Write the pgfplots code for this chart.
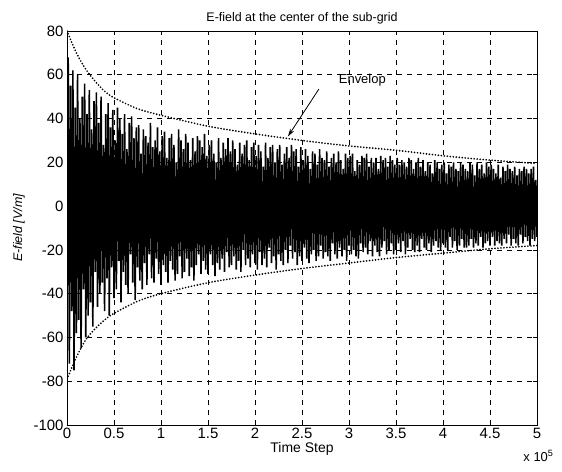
\documentclass[border=0pt]{standalone}
\usepackage{pgfplots}
\pgfplotsset{compat=1.18}
\usepackage{fontspec}
\setmainfont{Liberation Sans}
\usetikzlibrary{arrows.meta}
\begin{document}
\begin{tikzpicture}
\begin{axis}[
 scale only axis, width=470bp, height=394bp,
 xmin=0, xmax=5, ymin=-100, ymax=80,
 xtick={0,0.5,1,1.5,2,2.5,3,3.5,4,4.5,5},
 xticklabels={0,0.5,1,1.5,2,2.5,3,3.5,4,4.5,5},
 ytick={-100,-80,-60,-40,-20,0,20,40,60,80},
 grid=major,
 major grid style={black, dash pattern=on 5bp off 5bp, line width=0.7bp},
 axis line style={line width=0.9bp},
 tick align=inside, major tick length=4bp,
 tick style={black, line width=0.6bp},
 ticklabel style={font=\fontsize{15}{17}\selectfont},
 /pgf/number format/assume math mode=true,
 title={E-field at the center of the sub-grid},
 title style={font=\fontsize{12.5}{14}\selectfont, yshift=-3bp},
 xlabel={Time Step},
 xlabel style={font=\fontsize{14}{16}\selectfont, yshift=4bp},
 ylabel={\itshape E-field [V/m]},
 ylabel style={font=\fontsize{12.5}{14}\selectfont, yshift=2bp},
 clip=true,
]
\addplot[black, line width=1.6bp, line join=miter] table[row sep=\\, header=false, x expr=\coordindex*0.0125, y index=0] {
0\\ 68\\ -72\\ 55\\ -48\\ 62\\ -75\\ 45\\ -58\\ 60\\ -52\\ 40\\ -65\\ 50\\ -38\\ 56\\ -60\\ 42\\ -50\\ 53\\
-44\\ 35\\ -55\\ 48\\ -30\\ 52\\ -46\\ 38\\ -40\\ 50\\ -35\\ 28\\ -48\\ 42\\ -33\\ 47\\ -50\\ 36\\ -28\\ 44\\
-42\\ 30\\ -38\\ 45\\ -25\\ 40\\ -44\\ 33\\ -30\\ 42\\ -36\\ 26\\ -40\\ 38\\ -22\\ 41\\ -35\\ 31\\ -43\\ 36\\
-28\\ 37\\ -34\\ 24\\ -38\\ 35\\ -26\\ 32\\ -36\\ 29\\ -22\\ 38\\ -33\\ 27\\ -35\\ 30\\ -24\\ 36\\ -31\\ 25\\
-36\\ 32\\ -27\\ 34\\ -30\\ 22\\ -35\\ 31\\ -25\\ 33\\ -29\\ 28\\ -34\\ 20\\ -31\\ 35\\ -23\\ 30\\ -33\\ 26\\
-30\\ 33\\ -24\\ 29\\ -32\\ 21\\ -28\\ 31\\ -34\\ 25\\ -27\\ 32\\ -22\\ 30\\ -31\\ 27\\ -25\\ 33\\ -29\\ 23\\
-31\\ 28\\ -22\\ 30\\ -27\\ 24\\ -32\\ 20\\ -26\\ 31\\ -29\\ 22\\ -24\\ 29\\ -30\\ 26\\ -21\\ 31\\ -28\\ 25\\
-27\\ 30\\ -23\\ 26\\ -29\\ 19\\ -25\\ 29\\ -30\\ 24\\ -20\\ 28\\ -27\\ 30\\ -24\\ 21\\ -28\\ 27\\ -22\\ 29\\
-26\\ 23\\ -29\\ 28\\ -21\\ 25\\ -27\\ 18\\ -24\\ 29\\ -28\\ 22\\ -19\\ 27\\ -26\\ 28\\ -23\\ 20\\ -29\\ 26\\
-22\\ 28\\ -25\\ 19\\ -27\\ 24\\ -20\\ 27\\ -26\\ 22\\ -18\\ 28\\ -24\\ 25\\ -21\\ 26\\ -27\\ 18\\ -23\\ 27\\
-25\\ 21\\ -19\\ 26\\ -24\\ 23\\ -26\\ 17\\ -22\\ 25\\ -20\\ 24\\ -25\\ 19\\ -23\\ 26\\ -18\\ 22\\ -24\\ 21\\
-21\\ 25\\ -23\\ 18\\ -25\\ 22\\ -17\\ 24\\ -22\\ 20\\ -24\\ 25\\ -19\\ 21\\ -23\\ 17\\ -20\\ 24\\ -25\\ 22\\
-18\\ 23\\ -22\\ 24\\ -20\\ 16\\ -23\\ 21\\ -24\\ 19\\ -17\\ 23\\ -21\\ 22\\ -19\\ 24\\ -22\\ 18\\ -16\\ 22\\
-23\\ 20\\ -18\\ 22\\ -21\\ 17\\ -23\\ 23\\ -19\\ 21\\ -16\\ 22\\ -22\\ 18\\ -20\\ 23\\ -17\\ 21\\ -22\\ 19\\
-20\\ 22\\ -17\\ 19\\ -21\\ 21\\ -16\\ 20\\ -22\\ 18\\ -19\\ 22\\ -15\\ 21\\ -20\\ 17\\ -21\\ 20\\ -18\\ 22\\
-21\\ 18\\ -15\\ 21\\ -19\\ 16\\ -20\\ 20\\ -17\\ 19\\ -21\\ 15\\ -18\\ 21\\ -16\\ 20\\ -19\\ 17\\ -20\\ 19\\
-17\\ 20\\ -19\\ 15\\ -20\\ 19\\ -14\\ 18\\ -19\\ 20\\ -16\\ 17\\ -20\\ 16\\ -18\\ 20\\ -15\\ 19\\ -19\\ 17\\
-19\\ 16\\ -18\\ 20\\ -15\\ 19\\ -19\\ 14\\ -17\\ 20\\ -18\\ 17\\ -14\\ 19\\ -19\\ 15\\ -17\\ 20\\ -16\\ 18\\
-18\\ 19\\ -14\\ 17\\ -18\\ 15\\ -16\\ 19\\ -17\\ 13\\ -18\\ 18\\ -15\\ 16\\ -17\\ 19\\ -13\\ 17\\ -18\\ 16\\
-15\\ 18\\ -17\\ 14\\ -18\\ 17\\ -13\\ 16\\ -17\\ 18\\ -14\\ 17\\ -16\\ 15\\ -18\\ 17\\ -15\\ 18\\ -16\\ 12\\ -14\\
};
\addplot[black, line width=1.9bp, line cap=round, dash pattern=on 0bp off 3bp, smooth] coordinates {
(0,80) (0.1,70) (0.2,62.5) (0.3,57) (0.4,52.5) (0.5,49.5) (0.75,44.5) (1,41.5) (1.5,36.5) (2,33) (2.5,30) (3,27.5) (3.5,25.5) (4,23) (4.5,21) (5,19.5)
};
\addplot[black, line width=1.9bp, line cap=round, dash pattern=on 0bp off 3bp, smooth] coordinates {
(0,-79) (0.1,-69) (0.2,-61) (0.3,-56) (0.4,-52) (0.5,-49) (0.75,-43.5) (1,-40) (1.5,-35) (2,-31.5) (2.5,-28.5) (3,-26) (3.5,-23.5) (4,-21.5) (4.5,-19.5) (5,-18)
};
\draw[black, line width=0.8bp, -{Stealth[length=8bp,width=4.5bp]}] (axis cs:2.68,53.5) -- (axis cs:2.35,31.8);
\node[anchor=west, font=\fontsize{13}{15}\selectfont, inner sep=1bp] at (axis cs:2.88,57.5) {Envelop};
\end{axis}
\node[anchor=north east, font=\fontsize{13}{15}\selectfont] at ([xshift=20bp,yshift=-22bp]current axis.south east) {x 10\textsuperscript{5}};
\pgfresetboundingbox
\path ([shift={(-67bp,-46bp)}]current axis.south west) rectangle ([shift={(25bp,31bp)}]current axis.north east);
\end{tikzpicture}
\end{document}
